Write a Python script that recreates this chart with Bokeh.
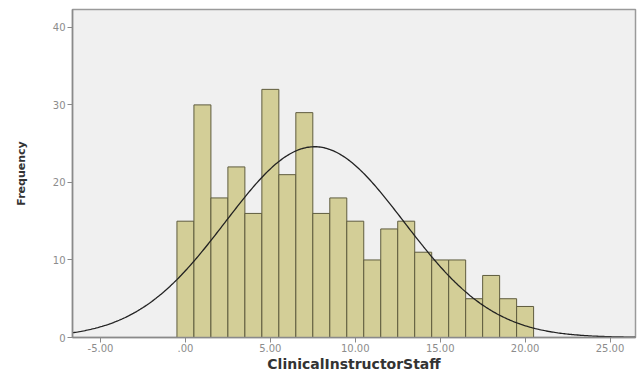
import numpy as np
from bokeh.plotting import figure
from bokeh.models import Range1d, FixedTicker, ColumnDataSource
from bokeh.embed import file_html
from bokeh.resources import INLINE

# Data (bins of width 1 centred on integers)
bin_centers = list(range(0, 21))
counts = [15, 30, 18, 22, 16, 32, 21, 29, 16, 18, 15, 10, 14, 15, 11, 10, 10, 5, 8, 5, 4]
x_ticks = [-5, 0, 5, 10, 15, 20, 25]
x_tick_labels = ["-5.00", ".00", "5.00", "10.00", "15.00", "20.00", "25.00"]
y_ticks = [0, 10, 20, 30, 40]
bin_width = 1.0

# Fitted normal curve (from the histogram's own mean and standard deviation)
c = np.array(bin_centers, dtype=float)
n = np.array(counts, dtype=float)
N = n.sum()
mean = (c * n).sum() / N
sd = np.sqrt(((c - mean) ** 2 * n).sum() / (N - 1))
xs = np.linspace(-6.65, 26.5, 400)
ys = N * bin_width * np.exp(-0.5 * ((xs - mean) / sd) ** 2) / (sd * np.sqrt(2 * np.pi))

p = figure(width=639, height=374, output_backend="svg", toolbar_location=None,
           x_range=Range1d(-6.65, 26.5), y_range=Range1d(0, 42.3),
           min_border_left=72, min_border_right=4, min_border_top=9, min_border_bottom=34)
p.background_fill_color = "#F0F0F0"
p.border_fill_color = "white"
p.outline_line_color = "#9a9a9a"
p.outline_line_width = 1.5
p.grid.visible = False

src = ColumnDataSource(dict(x=bin_centers, top=counts))
p.vbar(x="x", top="top", bottom=0, width=bin_width, source=src,
       fill_color="#D3CE97", line_color="#5f5c3e", line_width=1)
p.line(xs, ys, line_color="#222222", line_width=1.3)

p.xaxis.ticker = FixedTicker(ticks=x_ticks)
p.xaxis.major_label_overrides = {t: l for t, l in zip(x_ticks, x_tick_labels)}
p.yaxis.ticker = FixedTicker(ticks=y_ticks)

for ax in (p.xaxis[0], p.yaxis[0]):
    ax.axis_line_color = "#8a8a8a"
    ax.axis_line_width = 1.5
    ax.major_tick_line_color = "#8a8a8a"
    ax.major_tick_in = 0
    ax.major_tick_out = 5
    ax.minor_tick_line_color = None
    ax.major_label_text_color = "#8c8c8c"
    ax.major_label_text_font = "DejaVu Sans"
    ax.major_label_text_font_size = "10px"
    ax.axis_label_text_font = "DejaVu Sans"
    ax.axis_label_text_font_style = "bold"
    ax.axis_label_text_color = "#333333"

p.xaxis.axis_label = "ClinicalInstructorStaff"
p.xaxis.axis_label_text_font_size = "14px"
p.xaxis.axis_label_standoff = 1
p.xaxis.major_label_standoff = 1
p.yaxis.axis_label = "Frequency"
p.yaxis.axis_label_text_font_size = "11px"
p.yaxis.axis_label_standoff = 22
p.yaxis.major_label_standoff = 2

open("out.html", "w").write(file_html(p, INLINE))
